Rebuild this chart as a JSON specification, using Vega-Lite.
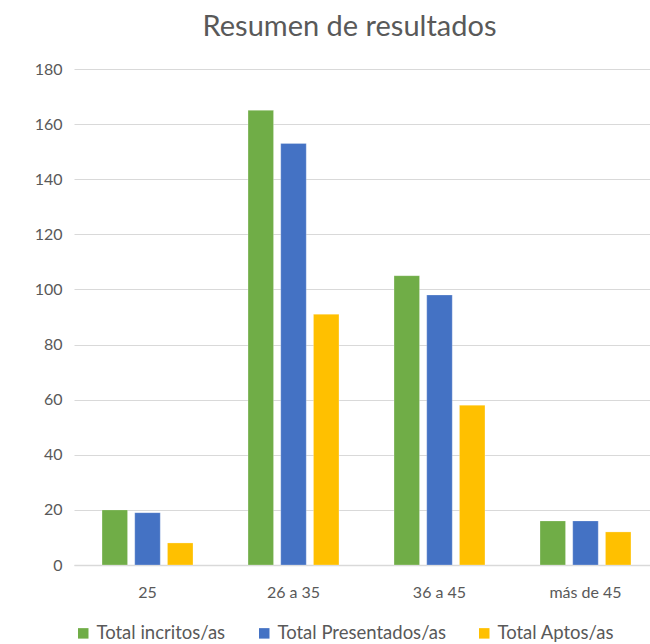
{
  "$schema": "https://vega.github.io/schema/vega-lite/v6.json",
  "width": 585,
  "height": 496,
  "autosize": {"type": "none"},
  "padding": {"left": 74, "top": 69, "right": 0, "bottom": 79},
  "background": "white",
  "title": {"text": "Resumen de resultados", "fontSize": 29, "font": "Lato", "fontWeight": "normal", "color": "#595959", "anchor": "middle", "offset": 19, "dx": -17, "frame": "group"},
  "data": {"values": [
    {"grupo": "25", "serie": "Total incritos/as", "valor": 20},
    {"grupo": "25", "serie": "Total Presentados/as", "valor": 19},
    {"grupo": "25", "serie": "Total Aptos/as", "valor": 8},
    {"grupo": "26 a 35", "serie": "Total incritos/as", "valor": 165},
    {"grupo": "26 a 35", "serie": "Total Presentados/as", "valor": 153},
    {"grupo": "26 a 35", "serie": "Total Aptos/as", "valor": 91},
    {"grupo": "36 a 45", "serie": "Total incritos/as", "valor": 105},
    {"grupo": "36 a 45", "serie": "Total Presentados/as", "valor": 98},
    {"grupo": "36 a 45", "serie": "Total Aptos/as", "valor": 58},
    {"grupo": "más de 45", "serie": "Total incritos/as", "valor": 16},
    {"grupo": "más de 45", "serie": "Total Presentados/as", "valor": 16},
    {"grupo": "más de 45", "serie": "Total Aptos/as", "valor": 12}
  ]},
  "mark": {"type": "bar", "stroke": "white", "strokeOpacity": 0.5, "strokeWidth": 0.5},
  "encoding": {
    "x": {"field": "grupo", "type": "nominal", "sort": ["25", "26 a 35", "36 a 45", "más de 45"],
      "scale": {"paddingInner": 0.377, "paddingOuter": 0.192},
      "axis": {"title": null, "labelAngle": 0, "ticks": false, "domain": true, "domainColor": "#D9D9D9", "domainWidth": 1.5, "labelPadding": 19, "labelFontSize": 16}},
    "xOffset": {"field": "serie", "sort": ["Total incritos/as", "Total Presentados/as", "Total Aptos/as"], "scale": {"paddingInner": 0.22}},
    "y": {"field": "valor", "type": "quantitative",
      "scale": {"domain": [0, 180]},
      "axis": {"title": null, "values": [0,20,40,60,80,100,120,140,160,180], "domain": false, "ticks": false, "labelPadding": 12, "labelFontSize": 16, "gridColor": "#D9D9D9", "gridWidth": 1.2}},
    "color": {"field": "serie", "type": "nominal", "sort": ["Total incritos/as", "Total Presentados/as", "Total Aptos/as"],
      "scale": {"domain": ["Total incritos/as", "Total Presentados/as", "Total Aptos/as"], "range": ["#70AD47", "#4472C4", "#FFC000"]},
      "legend": {"title": null, "orient": "bottom", "direction": "horizontal", "symbolType": "square", "symbolSize": 110, "symbolStrokeWidth": 0, "labelFontSize": 18.5, "labelLimit": 300, "columnPadding": 29, "labelOffset": 4, "offset": 24}}
  },
  "config": {
    "font": "Lato",
    "axis": {"labelColor": "#595959", "labelFont": "Lato", "labelFontWeight": "normal"},
    "legend": {"labelColor": "#595959", "labelFont": "Lato"},
    "view": {"stroke": null}
  }
}
